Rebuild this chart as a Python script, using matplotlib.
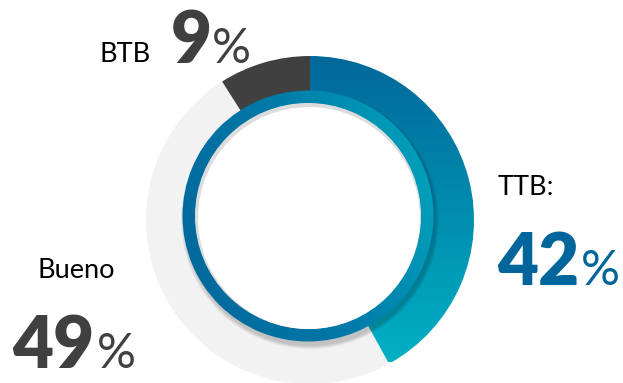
import numpy as np
import matplotlib.pyplot as plt
from matplotlib.colors import LinearSegmentedColormap
from matplotlib.patches import Circle, Wedge

# participación por categoría
categorias = ['TTB:', 'Bueno', 'BTB']
valores = [42, 49, 9]
colores = ['#00689A', '#F2F2F2', '#404040']
color_num = ['#00659A', '#404040', '#404040']

W, H = 623, 383
fig = plt.figure(figsize=(W / 100, H / 100), dpi=100)
ax = fig.add_axes([0, 0, 1, 1])

cx, cy, R = 310, 163, 164
wedges, _ = ax.pie(valores, colors=colores, startangle=90, counterclock=False,
                   radius=R, center=(cx, cy),
                   wedgeprops=dict(width=R - 118, linewidth=0))

# degradado azul -> turquesa en el segmento TTB
ttb = wedges[0]
ttb.set_facecolor('none')
cmap_ttb = LinearSegmentedColormap.from_list('ttb', ['#00B0C4', '#00689A'])
grad = np.linspace(0, 1, 256).reshape(-1, 1)
img = ax.imshow(grad, cmap=cmap_ttb, origin='lower', aspect='auto',
                extent=(cx - R, cx + R, 21, cy + R), zorder=1)
img.set_clip_path(ttb)

# sombra del anillo interior
ic = (308, 167)
for i in range(4):
    ax.add_patch(Circle((ic[0] + 2, ic[1] - 4), 126 + 3 - i, color='black',
                        alpha=0.05, lw=0, zorder=2))

# anillo interior con degradado
ring = Wedge(ic, 125.5, 0, 360, width=13, facecolor='none', lw=0, zorder=3)
ax.add_patch(ring)
xx, yy = np.meshgrid(np.linspace(0, 1, 200), np.linspace(0, 1, 200))
g2 = np.clip(0.75 * xx + 0.25 * yy, 0, 1)
cmap_ring = LinearSegmentedColormap.from_list('ring', ['#00659A', '#0079A8', '#00A8C0'])
img2 = ax.imshow(g2, cmap=cmap_ring, origin='lower', aspect='auto',
                 extent=(ic[0] - 126, ic[0] + 126, ic[1] - 126, ic[1] + 126), zorder=3)
img2.set_clip_path(ring)

# centro blanco con sombra interior
ax.add_patch(Circle(ic, 113, color='#DCDCDC', lw=0, zorder=4))
ax.add_patch(Circle((ic[0] + 1, ic[1] - 2), 111, color='white', lw=0, zorder=5))

# etiquetas
fuente = 'Lato'
pos_cat = [(498, 195), (37, 278), (100, 62)]
pos_num = [(497, 285), (12, 368), (171, 63)]
pos_pct = [(581, 285), (97, 368), (212, 63)]
for cat, v, cn, pc, pn, pp in zip(categorias, valores, color_num, pos_cat, pos_num, pos_pct):
    ax.text(pc[0], H - pc[1], cat, fontsize=19.5, family=fuente, color='black',
            ha='left', va='baseline', zorder=6)
    ax.text(pn[0], H - pn[1], str(v), fontsize=51, family=fuente, weight='heavy',
            color=cn, ha='left', va='baseline', zorder=6)
    ax.text(pp[0], H - pp[1], '%', fontsize=35, family=fuente, color=cn,
            ha='left', va='baseline', zorder=6)

ax.set_xlim(0, W)
ax.set_ylim(0, H)
ax.set_aspect('equal')
ax.axis('off')
fig.savefig('out.png', dpi=100)
